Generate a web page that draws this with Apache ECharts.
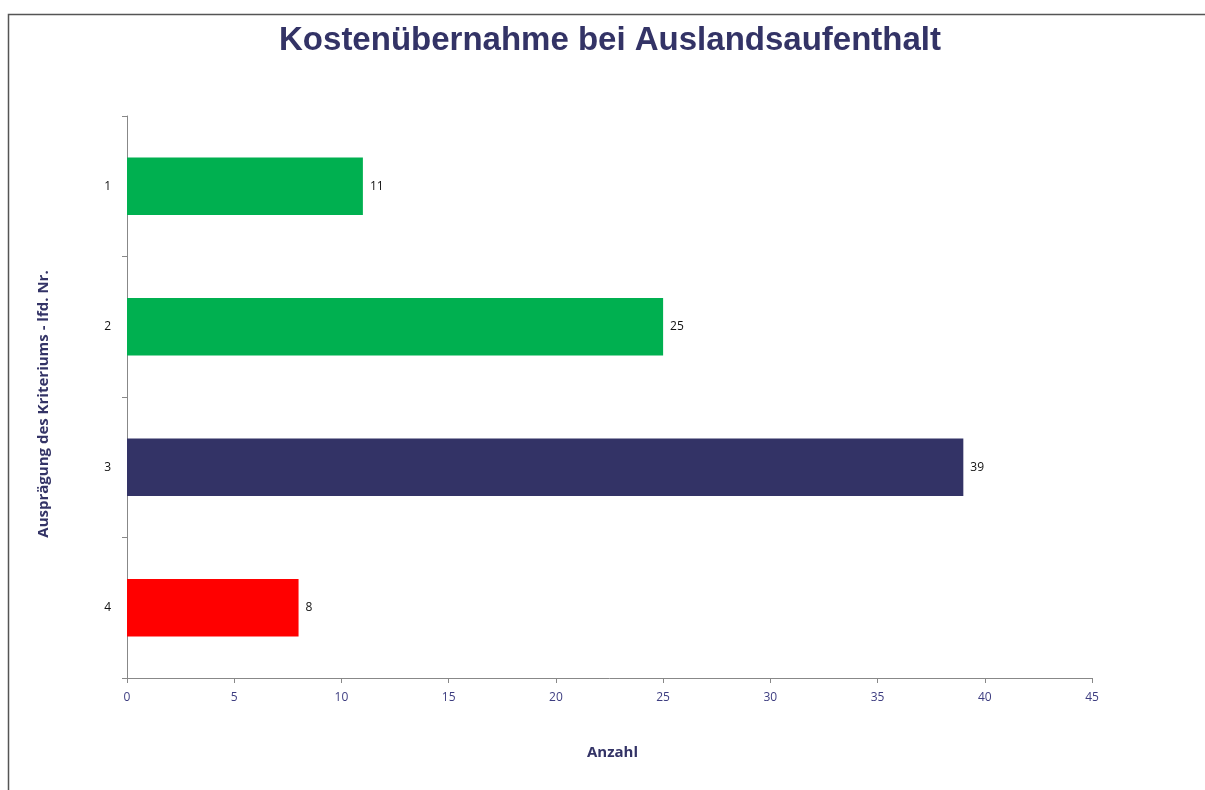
<!DOCTYPE html>
<html>
<head>
<meta charset="utf-8">
<script src="https://cdn.jsdelivr.net/npm/echarts@6/dist/echarts.min.js"></script>
<style>
html,body{margin:0;padding:0;background:#fff;}
#c{width:1205px;height:790px;}
</style>
</head>
<body>
<div id="c"></div>
<script>
var categories = ['1', '2', '3', '4'];
var values = [11, 25, 39, 8];
var barColors = ['#00B050', '#00B050', '#333366', '#FF0000'];
var xTicks = [0, 5, 10, 15, 20, 25, 30, 35, 40, 45];

var chart = echarts.init(document.getElementById('c'), null, {renderer: 'canvas'});
chart.setOption({
  backgroundColor: '#fff',
  animation: false,
  title: {
    text: 'Kostenübernahme bei Auslandsaufenthalt',
    left: 605,
    textAlign: 'center',
    top: 19,
    textStyle: {fontFamily: 'Liberation Sans, Arial', fontSize: 33, fontWeight: 'bold', color: '#333366'}
  },
  graphic: [{
    type: 'rect',
    shape: {x: 8.5, y: 14.5, width: 1210, height: 800},
    style: {fill: 'none', stroke: '#555', lineWidth: 1.5},
    silent: true
  }],
  grid: {left: 127, right: 113, top: 116, bottom: 112, containLabel: false},
  xAxis: {
    type: 'value',
    min: xTicks[0],
    max: xTicks[xTicks.length - 1],
    interval: 5,
    name: 'Anzahl',
    nameLocation: 'middle',
    nameGap: 67,
    nameTextStyle: {fontFamily: 'Open Sans, Noto Sans', fontSize: 15, fontWeight: 'bold', color: '#333366', padding: [0, 0, 0, 6]},
    axisLine: {show: true, lineStyle: {color: '#888', width: 1}},
    axisTick: {show: true, length: 5, lineStyle: {color: '#888'}},
    splitLine: {show: false},
    axisLabel: {fontFamily: 'Open Sans, Noto Sans', fontSize: 12, color: '#3d3d80', margin: 14}
  },
  yAxis: {
    type: 'category',
    data: categories,
    inverse: true,
    name: 'Ausprägung des Kriteriums - lfd. Nr.',
    nameLocation: 'middle',
    nameGap: 76,
    nameRotate: 90,
    nameTextStyle: {fontFamily: 'Open Sans, Noto Sans', fontSize: 15, fontWeight: 'bold', color: '#333366', padding: [0, 14, 0, 0]},
    axisLine: {show: true, lineStyle: {color: '#888', width: 1}},
    axisTick: {show: true, length: 5, alignWithLabel: false, lineStyle: {color: '#888'}},
    axisLabel: {fontFamily: 'Open Sans, Noto Sans', fontSize: 12, color: '#111', margin: 16}
  },
  series: [{
    type: 'bar',
    data: values.map(function (v, i) { return {value: v, itemStyle: {color: barColors[i]}}; }),
    barWidth: '41%',
    label: {show: true, position: 'right', distance: 7, fontFamily: 'Open Sans, Noto Sans', fontSize: 12, color: '#111'}
  }]
});
</script>
</body>
</html>
